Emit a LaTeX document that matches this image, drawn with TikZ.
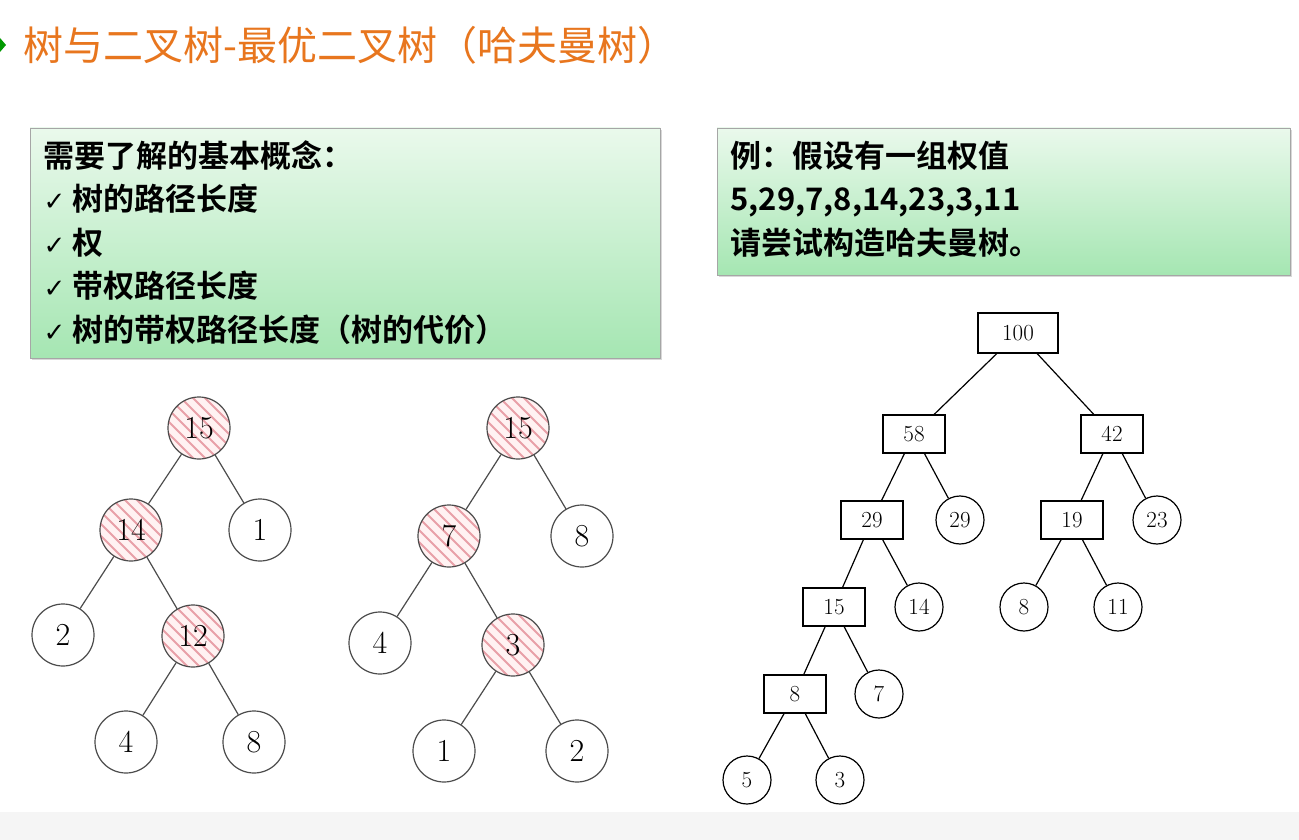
\documentclass[tikz,border=0pt]{standalone}
\usepackage{fontspec}
\newfontfamily\cjk{Noto Sans CJK SC}
\newfontfamily\cjkb{Noto Sans CJK SC Bold}
\newfontfamily\dv{DejaVu Sans}
\usetikzlibrary{shadows}
\definecolor{ttl}{HTML}{E8761E}
\definecolor{gtop}{HTML}{EAF9EC}
\definecolor{gbot}{HTML}{A5E6B2}
\definecolor{hl}{HTML}{E8A0A8}
\tikzset{
 bigc/.style={circle,draw=black!70,line width=1.2pt,minimum size=62pt,inner sep=0pt,font=\fontsize{32}{32}\selectfont,fill=white},
 hat/.style={bigc,fill=pink!20,path picture={
   \foreach \k in {-84,-72,...,84}{\draw[hl,line width=1.8pt] ([xshift=\k pt]path picture bounding box.center) ++(-40pt,40pt) -- ++(80pt,-80pt);}}},
 sq/.style={rectangle,draw,line width=1.2pt,minimum width=62pt,minimum height=38pt,inner sep=0pt,font=\fontsize{23}{23}\selectfont,fill=white},
 sc/.style={circle,draw,line width=1.2pt,minimum size=48pt,inner sep=0pt,font=\fontsize{23}{23}\selectfont,fill=white},
 gbox/.style={draw=black!35,top color=gtop,bottom color=gbot,drop shadow={opacity=0.3,shadow xshift=2pt,shadow yshift=-2pt}},
 ed/.style={draw=black!70,line width=1.2pt},
 bed/.style={draw,line width=1.2pt}
}
\begin{document}
\begin{tikzpicture}[x=1pt,y=-1pt]
\useasboundingbox (0,0) rectangle (1299,840);
\fill[white] (0,0) rectangle (1299,840);
\fill[black!4] (0,812) rectangle (1299,840);
\fill[green!60!black] (0,38) -- (6,45) -- (0,52) -- cycle;
\node[anchor=west,text=ttl,font=\cjk\fontsize{40}{40}\selectfont] (title) at (20,45) {树与二叉树-最优二叉树（哈夫曼树）};
\draw[gbox] (30,128) rectangle (660,358);
\node[anchor=north west,align=left,font=\cjkb\fontsize{31}{43.5}\selectfont] (concepts) at (40,137) {需要了解的基本概念：\\{\dv\fontsize{26}{26}\selectfont ✓} 树的路径长度\\{\dv\fontsize{26}{26}\selectfont ✓} 权\\{\dv\fontsize{26}{26}\selectfont ✓} 带权路径长度\\{\dv\fontsize{26}{26}\selectfont ✓} 树的带权路径长度（树的代价）};
\draw[gbox] (717,128) rectangle (1290,275);
\node[anchor=north west,align=left,font=\cjkb\fontsize{31}{43.5}\selectfont] (example) at (727,137) {例：假设有一组权值\\5,29,7,8,14,23,3,11\\请尝试构造哈夫曼树。};
% tree A
\node[hat] (a15) at (199,428) {15};
\node[hat] (a14) at (131,530) {14};
\node[bigc] (a1) at (260,530) {1};
\node[bigc] (a2) at (63,635) {2};
\node[hat] (a12) at (193,636) {12};
\node[bigc] (a4) at (126,742) {4};
\node[bigc] (a8) at (254,742) {8};
\draw[ed] (a15)--(a14) (a15)--(a1) (a14)--(a2) (a14)--(a12) (a12)--(a4) (a12)--(a8);
% tree B
\node[hat] (b15) at (518,428) {15};
\node[hat] (b7) at (449,536) {7};
\node[bigc] (b8) at (582,536) {8};
\node[bigc] (b4) at (380,643) {4};
\node[hat] (b3) at (513,645) {3};
\node[bigc] (b1) at (444,751) {1};
\node[bigc] (b2) at (577,751) {2};
\draw[ed] (b15)--(b7) (b15)--(b8) (b7)--(b4) (b7)--(b3) (b3)--(b1) (b3)--(b2);
% Huffman tree
\node[sq,minimum width=80pt,minimum height=40pt] (h100) at (1018,333) {100};
\node[sq] (h58) at (914,434) {58};
\node[sq] (h42) at (1112,434) {42};
\node[sq] (h29) at (872,520) {29};
\node[sc] (c29) at (960,520) {29};
\node[sq] (h19) at (1072,520) {19};
\node[sc] (c23) at (1157,520) {23};
\node[sq] (h15) at (834,607) {15};
\node[sc] (c14) at (919,607) {14};
\node[sc] (c8) at (1024,607) {8};
\node[sc] (c11) at (1118,607) {11};
\node[sq] (h8) at (795,694) {8};
\node[sc] (c7) at (879,694) {7};
\node[sc] (c5) at (747,780) {5};
\node[sc] (c3) at (840,780) {3};
\draw[bed] (h100)--(h58) (h100)--(h42) (h58)--(h29) (h58)--(c29) (h42)--(h19) (h42)--(c23)
 (h29)--(h15) (h29)--(c14) (h19)--(c8) (h19)--(c11) (h15)--(h8) (h15)--(c7) (h8)--(c5) (h8)--(c3);
\end{tikzpicture}
\end{document}
